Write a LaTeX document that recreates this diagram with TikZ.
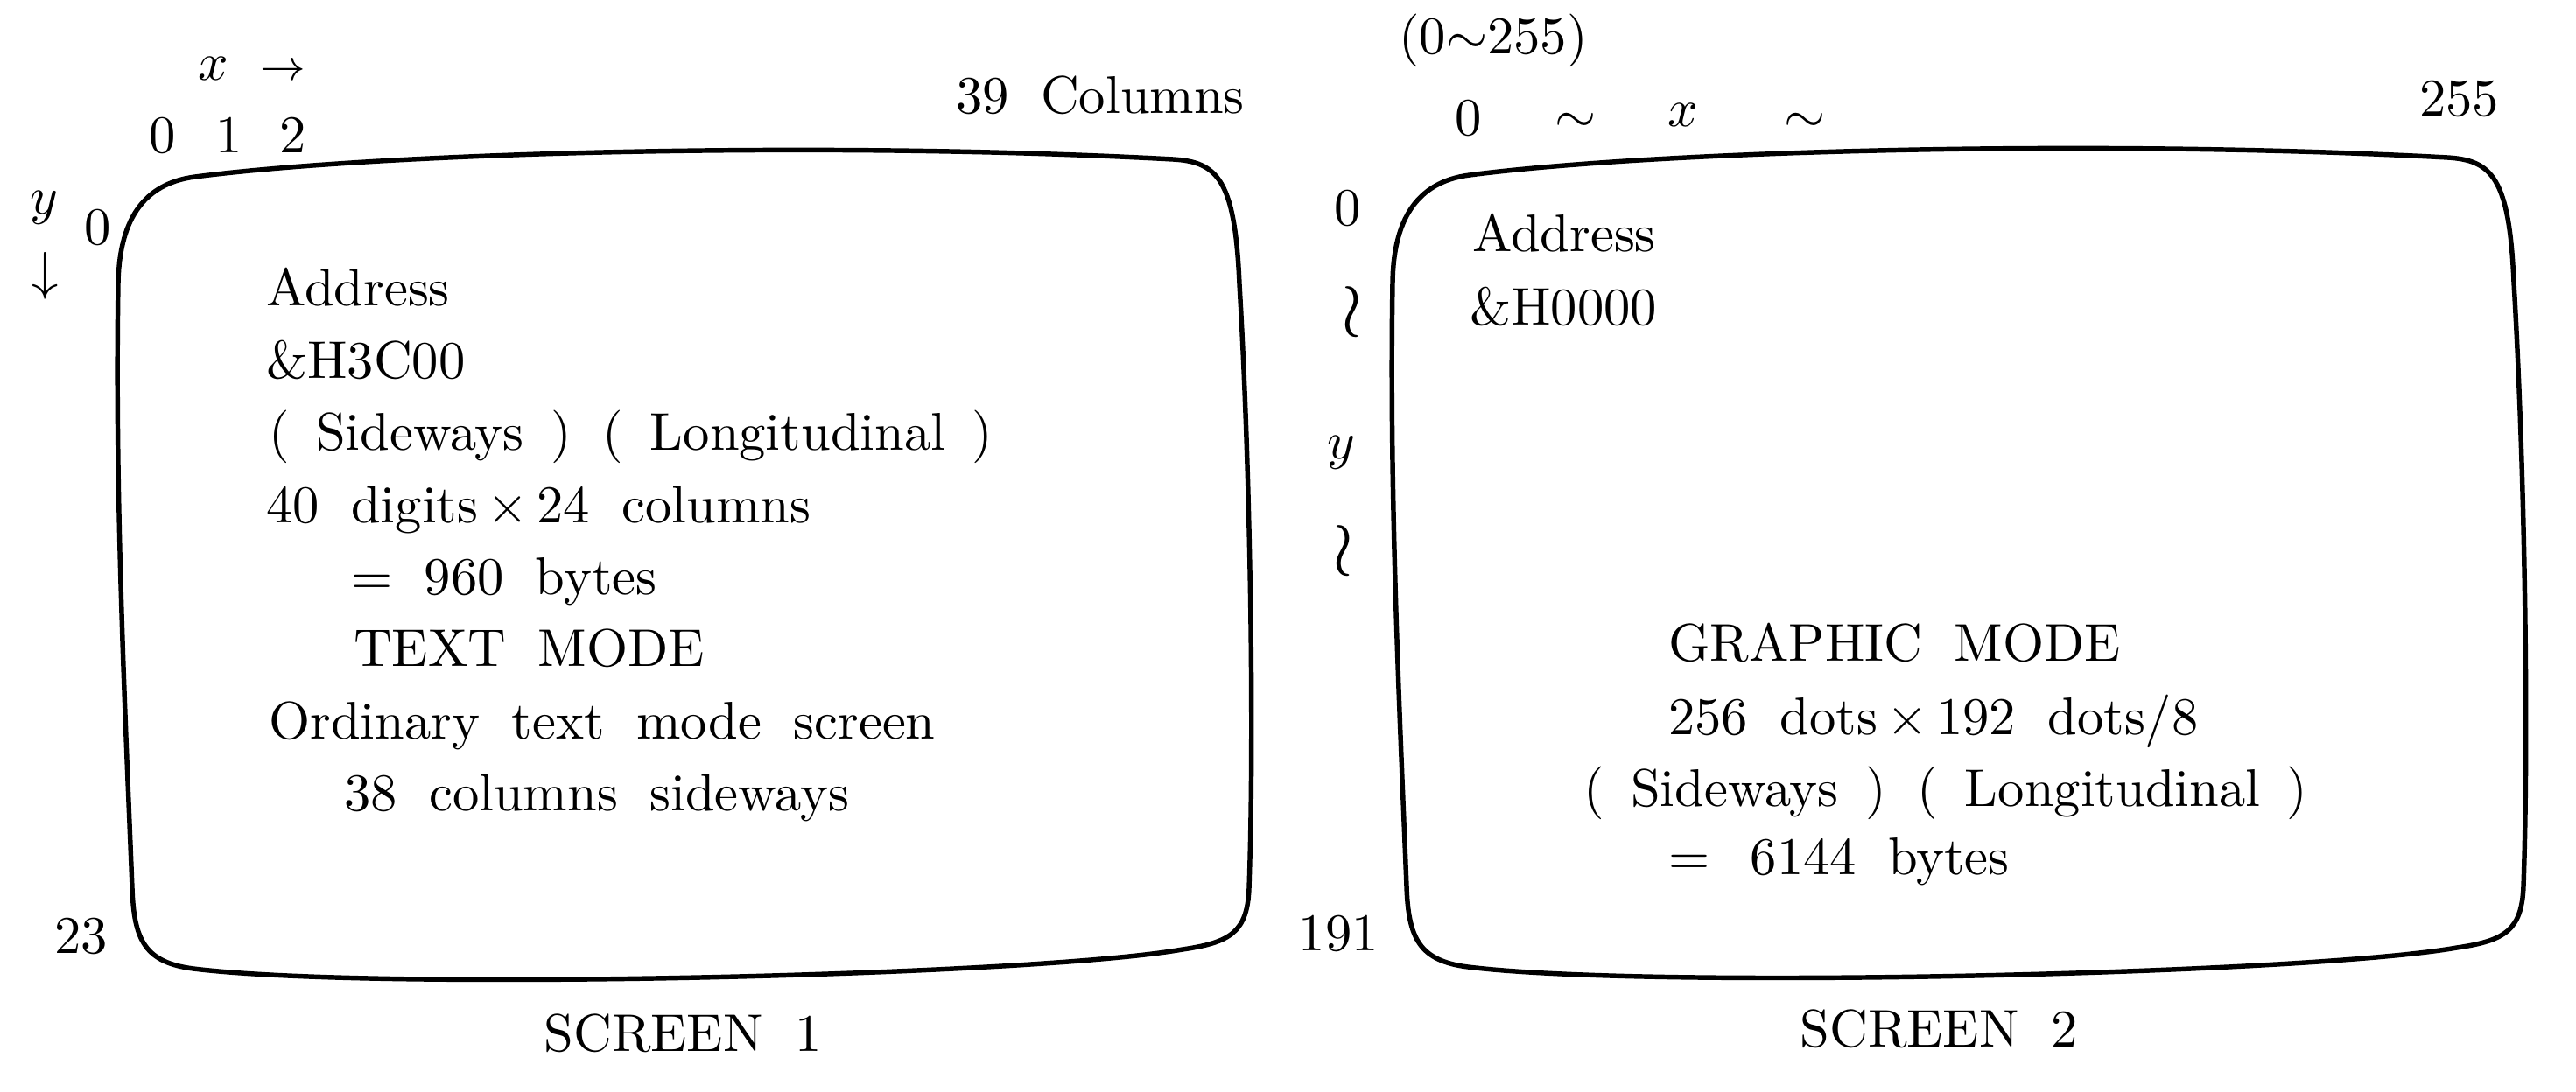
\documentclass[tikz,border=0pt]{standalone}
\newcommand\widesp{\spaceskip=.6em plus .1em\relax}
\begin{document}
\begin{tikzpicture}[scale=.58, every node/.style={inner sep=0pt, font=\widesp}]
  \useasboundingbox (0,0) rectangle (29.43,-12.48);
  % both screens have the same outline
  \foreach \ox/\oy in {1.31/-1.65, 15.87/-1.63}{
    \begin{scope}[shift={(\ox,\oy)}]
      \draw[line width=.9pt] (0.04,-1.6)
        .. controls (0.05,-0.9) and (0.3,-0.45) .. (0.92,-0.37)
        .. controls (3.0,-0.1) and (8.0,0.05) .. (12.09,-0.17)
        .. controls (12.6,-0.2) and (12.8,-0.4) .. (12.85,-1.6)
        .. controls (12.98,-3.8) and (13.02,-6.8) .. (12.96,-8.5)
        .. controls (12.94,-9.0) and (12.75,-9.12) .. (12.2,-9.2)
        .. controls (10.5,-9.5) and (3.0,-9.68) .. (0.9,-9.42)
        .. controls (0.35,-9.35) and (0.22,-9.1) .. (0.2,-8.5)
        .. controls (0.12,-6.5) and (0.0,-4) .. (0.04,-1.6) -- cycle;
    \end{scope}
  }

  % screen 1
  \node[anchor=base west] (xlab1) at (2.25,-0.92) {$x$ {\footnotesize$\rightarrow$}};
  \foreach \n/\xx in {0/1.86, 1/2.62, 2/3.35}
    \node[anchor=base] (col\n) at (\xx,-1.75) {\n};
  \node[anchor=base west] (lastcol) at (10.91,-1.30) {39 Columns};
  \node[anchor=base west] (ylab1) at (0.33,-2.45) {$y$};
  \node[anchor=base west] (row0) at (0.95,-2.80) {0};
  \node[anchor=base] (ydown) at (0.52,-3.31) {$\downarrow$};
  \node[anchor=base east] (row23) at (1.24,-10.90) {23};
  \foreach \txt/\xx [count=\i from 0] in {Address/3.03, \&H3C00/3.03,
      {(\enspace Sideways\enspace) (\enspace Longitudinal\enspace)}/3.06,
      {40 digits\,$\times$\,24 columns}/3.03,
      {= 960 bytes}/4.00, {TEXT MODE}/4.03, {Ordinary text mode screen}/3.06,
      {38 columns sideways}/3.92}
    \node[anchor=base west] (txt\i) at (\xx,-3.50-0.824*\i) {\txt};
  \node[anchor=base] (scr1) at (7.80,-12.02) {SCREEN 1};

  % screen 2
  \node[anchor=base west] (xrange) at (15.97,-0.62) {(0$\sim$255)};
  \node[anchor=base west] (x0) at (16.61,-1.55) {0};
  \node[anchor=base] (xt1) at (18.00,-1.52) {$\sim$};
  \node[anchor=base west] (xlab2) at (19.04,-1.45) {$x$};
  \node[anchor=base] (xt2) at (20.62,-1.52) {$\sim$};
  \node[anchor=base west] (x255) at (27.63,-1.33) {255};
  \node[anchor=base west] (y0) at (15.23,-2.58) {0};
  \node (yt1) at (15.45,-3.57) {\Large$\wr$};
  \node[anchor=base west] (ylab2) at (15.15,-5.25) {$y$};
  \node (yt2) at (15.35,-6.30) {\Large$\wr$};
  \node[anchor=base east] (y191) at (15.76,-10.87) {191};
  \node[anchor=base west] (adr2) at (16.81,-2.88) {Address};
  \node[anchor=base west] (hex2) at (16.78,-3.72) {\&H0000};
  \node[anchor=base west] (mode2) at (19.05,-7.56) {GRAPHIC MODE};
  \node[anchor=base west] (dots2) at (19.05,-8.40) {256 dots\,$\times$\,192 dots/8};
  \node[anchor=base west] (dir2) at (18.08,-9.22)
    {(\enspace Sideways\enspace) (\enspace Longitudinal\enspace)};
  \node[anchor=base west] (size2) at (19.05,-10.00) {= \,6144 bytes};
  \node[anchor=base] (scr2) at (22.15,-11.97) {SCREEN 2};
\end{tikzpicture}
\end{document}
